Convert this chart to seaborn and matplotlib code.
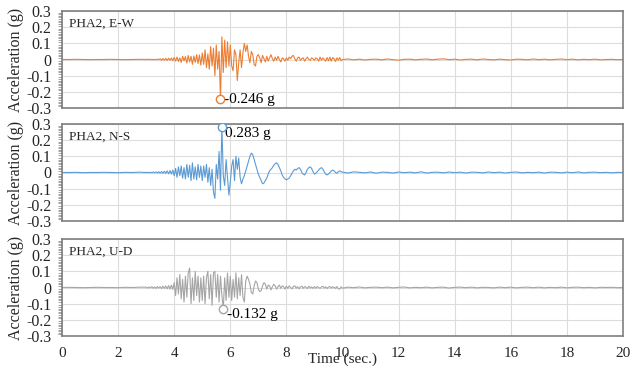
import numpy as np
import pandas as pd
import seaborn as sns
import matplotlib.pyplot as plt
from matplotlib.ticker import MultipleLocator

sns.set_style("white")
plt.rcParams['font.family'] = ['Liberation Serif', 'DejaVu Serif']

# acceleration records (g)
# quiet part 0 - 2.75 s, step 0.25 s
ew_pre = [0.0, 0.0, 0.001, 0.0, -0.001, 0.0, 0.0, 0.001, 0.0, -0.001, 0.0, 0.001]
ns_pre = [0.0, 0.0, 0.001, -0.001, 0.0, 0.0, 0.001, 0.0, -0.001, 0.001, 0.0, 0.002]
ud_pre = [0.0, 0.001, 0.0, -0.001, 0.0, 0.001, 0.0, 0.0, -0.001, 0.001, 0.0, 0.002]

# strong motion part 3.00 - 9.95 s, step 0.05 s (one row per second)
ew_main = [
    0.0, 0.002, -0.001, 0.002, -0.002, 0.001, 0.0, -0.002, 0.003, -0.001, 0.004, -0.005, 0.006, -0.004, 0.007, -0.006, 0.008, -0.005, 0.009, -0.007,
    0.012, -0.01, 0.015, -0.012, 0.01, -0.018, 0.02, -0.008, 0.018, -0.022, 0.025, -0.015, 0.02, -0.03, 0.022, -0.018, 0.03, -0.025, 0.028, -0.035,
    0.04, -0.03, 0.06, -0.05, 0.035, -0.06, 0.08, -0.04, 0.07, -0.1, 0.09, -0.06, 0.05, -0.246, 0.14, -0.08, 0.12, -0.05, 0.11, -0.04,
    0.09, -0.04, -0.07, 0.06, 0.03, -0.13, -0.02, 0.06, -0.05, 0.04, 0.1, 0.05, 0.09, 0.02, -0.02, 0.05, 0.03, -0.03, -0.04, 0.02,
    0.03, 0.01, -0.02, 0.025, 0.005, -0.015, 0.02, -0.01, 0.01, 0.03, 0.005, -0.01, 0.015, -0.005, 0.02, 0.0, -0.015, 0.01, 0.005, -0.01,
    0.01, -0.005, 0.015, 0.005, 0.02, 0.025, 0.005, -0.01, 0.01, 0.015, -0.005, 0.005, 0.01, -0.01, 0.005, 0.015, 0.0, -0.005, 0.01, 0.005,
    -0.005, 0.01, 0.005, -0.01, 0.015, -0.005, 0.01, 0.0, -0.01, 0.012, -0.008, 0.015, -0.01, 0.012, 0.005, -0.012, 0.01, -0.005, 0.012, -0.008,
]
ns_main = [
    0.0, 0.001, -0.002, 0.002, -0.001, 0.003, -0.002, 0.004, -0.003, 0.005, -0.004, 0.006, -0.005, 0.008, -0.006, 0.01, -0.008, 0.012, -0.01, 0.015,
    -0.02, 0.025, -0.03, 0.035, -0.02, 0.04, -0.035, 0.03, -0.04, 0.05, -0.03, 0.045, -0.05, 0.06, -0.04, 0.035, -0.045, 0.05, -0.03, 0.04,
    -0.05, 0.04, -0.03, 0.05, -0.06, 0.03, -0.08, 0.02, -0.12, -0.16, 0.05, -0.04, 0.13, -0.11, 0.283, -0.02, -0.08, 0.08, -0.03, -0.14,
    -0.06, 0.04, 0.08, -0.05, 0.1, 0.02, 0.09, -0.03, -0.07, -0.04, -0.02, 0.01, 0.04, 0.07, 0.1, 0.12, 0.11, 0.08, 0.05, 0.02,
    -0.01, -0.03, -0.05, -0.07, -0.065, -0.05, -0.035, -0.01, 0.01, 0.02, 0.03, 0.045, 0.055, 0.06, 0.05, 0.03, 0.01, -0.015, -0.03, -0.04,
    -0.045, -0.04, -0.035, -0.02, -0.005, 0.01, 0.02, 0.015, 0.025, 0.03, 0.02, 0.0, -0.01, -0.015, 0.0, 0.02, 0.03, 0.035, 0.025, 0.005,
    -0.01, -0.005, 0.005, 0.015, 0.025, 0.03, 0.02, 0.005, -0.01, -0.015, -0.01, 0.0, 0.01, 0.015, 0.01, 0.0, -0.005, 0.005, 0.01, 0.005,
]
ud_main = [
    0.002, -0.003, 0.004, -0.002, 0.005, -0.004, 0.003, -0.005, 0.006, -0.003, 0.005, -0.006, 0.008, -0.005, 0.01, -0.008, 0.012, -0.01, 0.015, -0.012,
    0.03, -0.05, 0.06, -0.04, 0.08, -0.07, 0.05, -0.09, 0.07, -0.06, 0.09, 0.12, -0.1, 0.06, -0.08, 0.1, -0.05, 0.07, -0.09, 0.06,
    -0.08, 0.07, -0.1, 0.06, 0.1, -0.07, 0.08, -0.11, 0.09, 0.1, -0.06, 0.08, -0.09, 0.07, -0.05, -0.132, 0.06, -0.08, 0.09, -0.06,
    0.07, -0.08, 0.05, -0.06, 0.09, -0.07, 0.06, -0.05, 0.08, -0.06, -0.09, 0.04, 0.07, 0.05, 0.02, -0.03, -0.04, 0.01, 0.04, 0.03,
    -0.01, -0.025, -0.02, 0.01, 0.03, 0.02, -0.01, 0.015, 0.01, -0.015, 0.005, 0.02, 0.01, -0.01, 0.005, 0.015, -0.005, 0.01, 0.005, -0.01,
    0.008, -0.005, 0.01, 0.0, -0.008, 0.006, 0.01, -0.004, 0.005, -0.008, 0.004, 0.008, -0.005, 0.006, 0.002, -0.006, 0.008, -0.003, 0.004, -0.005,
    0.005, -0.004, 0.006, 0.0, -0.005, 0.004, 0.007, -0.003, 0.004, -0.006, 0.003, 0.006, -0.004, 0.005, 0.0, -0.005, 0.006, -0.008, -0.01, 0.004,
]

# coda 10 - 20 s, step 0.2 s
ew_tail = [0.0, 0.003, -0.002, 0.002, -0.003, 0.001, 0.002, -0.002, 0.003, -0.001,
           -0.004, 0.001, 0.002, -0.002, 0.001, 0.003, -0.002, 0.002, 0.004, -0.001,
           0.002, -0.003, 0.001, 0.002, -0.002, 0.003, 0.0, -0.002, 0.002, -0.001,
           -0.003, 0.002, 0.001, -0.002, 0.003, -0.001, 0.002, -0.002, 0.001, 0.003,
           -0.001, 0.002, -0.002, 0.001, -0.001, 0.002, -0.002, 0.0, 0.001, -0.001, 0.0]
ns_tail = [0.002, -0.003, 0.004, 0.001, -0.002, 0.003, -0.004, 0.002, 0.001, -0.003,
           0.003, -0.001, 0.002, -0.002, 0.004, -0.003, 0.001, 0.002, -0.002, 0.003,
           -0.001, 0.002, -0.003, 0.002, 0.001, -0.002, 0.003, -0.001, 0.002, -0.003,
           0.001, 0.003, -0.002, 0.001, -0.001, 0.002, -0.003, 0.002, 0.001, -0.002,
           0.002, -0.001, 0.003, -0.002, 0.001, 0.002, -0.001, 0.001, -0.002, 0.001, 0.0]
ud_tail = [-0.004, 0.002, -0.001, 0.003, -0.002, 0.001, 0.002, -0.001, 0.002, -0.002,
           0.001, 0.003, -0.002, 0.001, -0.001, 0.002, -0.002, 0.001, 0.002, -0.003,
           0.001, 0.002, -0.001, 0.002, -0.002, 0.001, 0.0, -0.002, 0.002, -0.001,
           0.002, -0.002, 0.001, 0.002, -0.001, 0.002, -0.002, 0.001, -0.001, 0.002,
           -0.002, 0.001, 0.002, -0.001, 0.001, -0.002, 0.001, 0.0, 0.001, -0.001, 0.0]

panels = ['PHA2, E-W', 'PHA2, N-S', 'PHA2, U-D']
colors = ['#ED7D31', '#5B9BD5', '#A5A5A5']
peak_labels = ['-0.246 g', '0.283 g', '-0.132 g']


def record(pre, main, tail):
    t = np.concatenate([0.25 * np.arange(len(pre)),
                        3.0 + 0.05 * np.arange(len(main)),
                        np.linspace(10, 20, len(tail))])
    return pd.DataFrame({'t': t, 'acc': pre + main + tail})


records = [record(ew_pre, ew_main, ew_tail),
           record(ns_pre, ns_main, ns_tail),
           record(ud_pre, ud_main, ud_tail)]

fig = plt.figure(figsize=(6.3, 3.67), dpi=100)
tops = [11, 124, 239]
for i, df in enumerate(records):
    ax = fig.add_axes([62 / 630, 1 - (tops[i] + 97) / 367, 561 / 630, 97 / 367])
    sns.lineplot(data=df, x='t', y='acc', color=colors[i], linewidth=0.8, ax=ax)

    # peak marker + label
    k = df['acc'].abs().idxmax() if i < 2 else df['acc'].idxmin()
    tp, ap = df.loc[k, 't'], df.loc[k, 'acc']
    ax.plot(tp, ap, 'o', mfc='white', mec=colors[i], ms=6, mew=1.0, zorder=5)
    ax.text(tp + 0.12, ap if i != 2 else ap - 0.035, peak_labels[i], fontsize=11,
            va='center' if i == 0 else ('top' if i == 1 else 'center'),
            ha='left', color='black')

    ax.text(0.012, 0.93, panels[i], transform=ax.transAxes, fontsize=9.5,
            va='top', ha='left')

    ax.set_xlim(0, 20)
    ax.set_ylim(-0.3, 0.3)
    ax.set_xticks(np.arange(0, 21, 2))
    ax.set_yticks([-0.3, -0.2, -0.1, 0, 0.1, 0.2, 0.3])
    ax.set_yticklabels(['-0.3', '-0.2', '-0.1', '0', '0.1', '0.2', '0.3'])
    ax.yaxis.set_minor_locator(MultipleLocator(0.01))
    ax.tick_params(axis='y', which='major', direction='inout', length=5,
                   width=0.8, color='#7F7F7F', labelsize=11.5, pad=5)
    ax.tick_params(axis='y', which='minor', direction='out', length=3,
                   width=0.5, color='#7F7F7F', left=True)
    ax.tick_params(axis='x', length=0, labelsize=11, pad=8)
    if i < 2:
        ax.set_xticklabels([])
    ax.grid(True, color='#DCDCDC', linewidth=0.8)
    for s in ax.spines.values():
        s.set_color('#7F7F7F')
        s.set_linewidth(1.2)
    ax.set_xlabel('')
    ax.set_ylabel('Acceleration (g)', fontsize=11.5, labelpad=2)

fig.text(342 / 630, 1 - 359 / 367, 'Time (sec.)', fontsize=11,
         ha='center', va='center')

fig.savefig('out.png', dpi=100)
